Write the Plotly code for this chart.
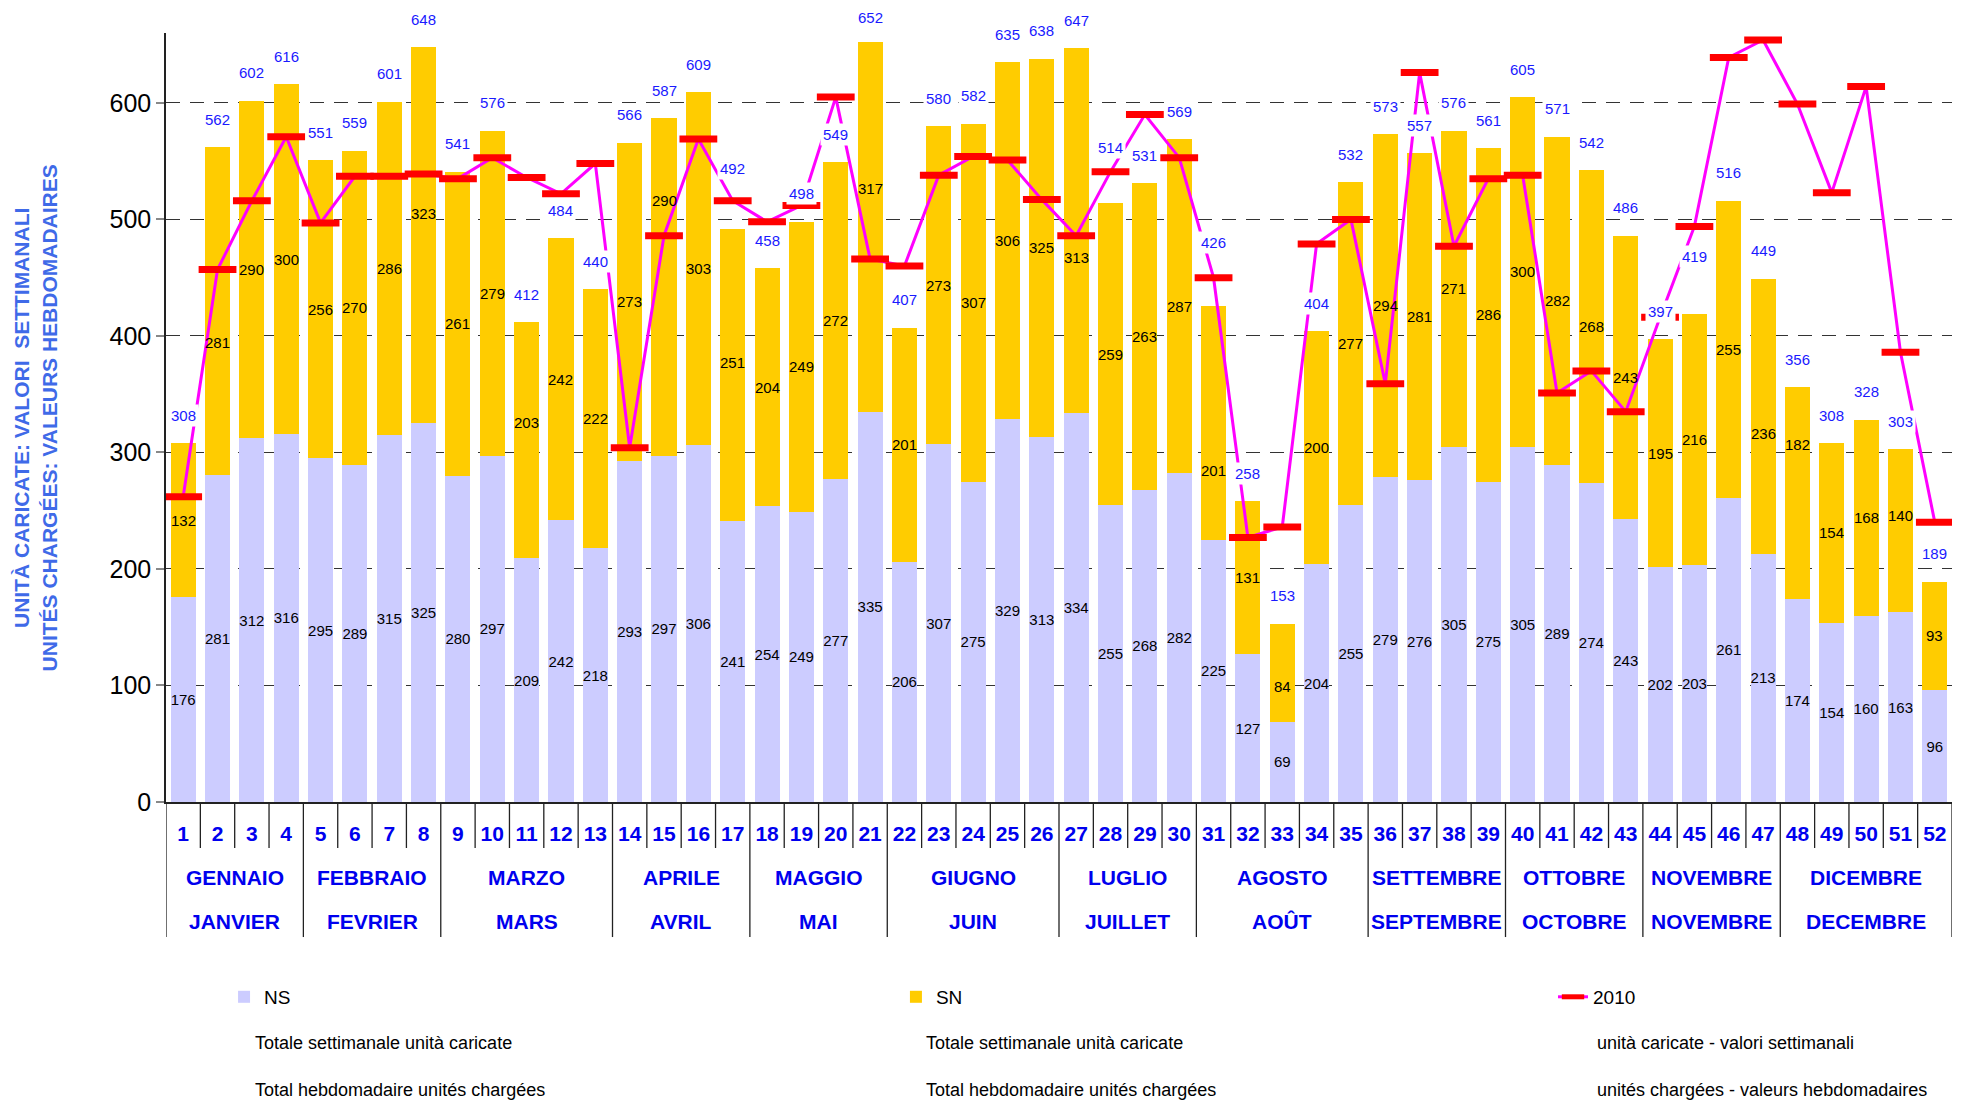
import plotly.graph_objects as go

weeks = list(range(1, 53))
ns = [176, 281, 312, 316, 295, 289, 315, 325, 280, 297, 209, 242, 218,
      293, 297, 306, 241, 254, 249, 277, 335, 206, 307, 275, 329, 313,
      334, 255, 268, 282, 225, 127, 69, 204, 255, 279, 276, 305, 275,
      305, 289, 274, 243, 202, 203, 261, 213, 174, 154, 160, 163, 96]
sn = [132, 281, 290, 300, 256, 270, 286, 323, 261, 279, 203, 242, 222,
      273, 290, 303, 251, 204, 249, 272, 317, 201, 273, 307, 306, 325,
      313, 259, 263, 287, 201, 131, 84, 200, 277, 294, 281, 271, 286,
      300, 282, 268, 243, 195, 216, 255, 236, 182, 154, 168, 140, 93]
y2010 = [262, 457, 516, 571, 497, 537, 537, 539, 535, 553, 536, 522, 548,
         304, 486, 569, 516, 498, 512, 605, 466, 460, 538, 554, 551, 517,
         486, 541, 590, 553, 450, 227, 236, 479, 500, 359, 626, 477, 535,
         538, 351, 370, 335, 416, 494, 639, 654, 599, 523, 614, 386, 240]
months_it = ["GENNAIO", "FEBBRAIO", "MARZO", "APRILE", "MAGGIO", "GIUGNO",
             "LUGLIO", "AGOSTO", "SETTEMBRE", "OTTOBRE", "NOVEMBRE", "DICEMBRE"]
months_fr = ["JANVIER", "FEVRIER", "MARS", "AVRIL", "MAI", "JUIN",
             "JUILLET", "AOÛT", "SEPTEMBRE", "OCTOBRE", "NOVEMBRE", "DECEMBRE"]
weeks_per_month = [4, 4, 5, 4, 4, 5, 4, 5, 4, 4, 4, 5]

totals = [a + b for a, b in zip(ns, sn)]

# label placement tweaks (layout only, in axis units) as in the original chart
total_label_gap = 24
total_label_extra = {17: 28, 21: -3, 28: 24, 31: 30, 45: 25}
sn_label_shift = {2: -27, 8: 19, 11: 15, 15: 74, 17: 11, 21: 33, 27: -23,
                  31: -41, 33: -12, 47: -15, 48: 42, 51: 13}

NARROW = "Liberation Sans Narrow, Liberation Sans, Arial, sans-serif"
ARIAL = "Liberation Sans, Arial, sans-serif"
BLUE = "#0000ee"

fig = go.Figure()
fig.add_trace(go.Bar(
    x=weeks, y=ns, name="NS", marker=dict(color="#ccccff", line=dict(width=0)),
    text=[str(v) for v in ns], textposition="inside", insidetextanchor="middle",
    textangle=0, constraintext="none",
    textfont=dict(family=NARROW, size=15, color="black"), legend="legend"))
fig.add_trace(go.Bar(
    x=weeks, y=sn, name="SN", marker=dict(color="#ffcc00", line=dict(width=0)),
    legend="legend2"))
fig.add_trace(go.Scatter(
    x=weeks, y=y2010, name="2010", mode="lines+markers",
    line=dict(color="#ff00ff", width=3),
    marker=dict(symbol="line-ew", size=27, color="red",
                line=dict(color="red", width=7)),
    legend="legend3"))

annotations = []
for w, a, b in zip(weeks, ns, sn):
    annotations.append(dict(x=w, y=a + b / 2 + sn_label_shift.get(w, 0), xref="x", yref="y",
                            text=str(b), showarrow=False, yanchor="middle",
                            font=dict(family=NARROW, size=15, color="black")))
for w, t in zip(weeks, totals):
    lift = (total_label_gap + total_label_extra.get(w, 0)) * 1.165
    annotations.append(dict(x=w, y=t, yshift=lift, xref="x", yref="y", text=str(t),
                            showarrow=False, bgcolor="white", borderpad=2,
                            yanchor="middle",
                            font=dict(family=NARROW, size=15, color="#1a1aff")))

shapes = []
month_bounds = [0]
for n in weeks_per_month:
    month_bounds.append(month_bounds[-1] + n)
start = 1
for i, n in enumerate(weeks_per_month):
    end = start + n - 1
    xc = (start + end) / 2
    annotations.append(dict(x=xc, y=-0.0988, xref="x", yref="paper", text=months_it[i],
                            showarrow=False, yanchor="middle",
                            font=dict(family=ARIAL, size=21, color=BLUE, weight="bold")))
    annotations.append(dict(x=xc, y=-0.1557, xref="x", yref="paper", text=months_fr[i],
                            showarrow=False, yanchor="middle",
                            font=dict(family=ARIAL, size=21, color=BLUE, weight="bold")))
    start = end + 1

for k in range(0, 53):
    bottom = -0.1756 if k in month_bounds else -0.0598
    shapes.append(dict(type="line", xref="x", yref="paper", x0=k + 0.5, x1=k + 0.5,
                       y0=0, y1=bottom, line=dict(color="#222222", width=1.3)))

annotations.append(dict(
    x=-0.0734, y=0.5, xref="paper", yref="paper", textangle=-90, showarrow=False,
    xanchor="center", yanchor="middle",
    text="UNITÀ CARICATE: VALORI  SETTIMANALI<br>UNITÉS CHARGÉES: VALEURS HEBDOMADAIRES",
    font=dict(family=ARIAL, size=21, color="#3f6ae8", weight="bold")))

subtexts = [
    (0.0487, "Totale settimanale unità caricate", "Total hebdomadaire unités chargées"),
    (0.4243, "Totale settimanale unità caricate", "Total hebdomadaire unités chargées"),
    (0.8000, "unità caricate - valori settimanali", "unités chargées - valeurs hebdomadaires"),
]
for xp, l1, l2 in subtexts:
    annotations.append(dict(x=xp, y=-0.3134, xref="paper", yref="paper", text=l1,
                            showarrow=False, xanchor="left", yanchor="middle",
                            font=dict(family=ARIAL, size=18, color="black")))
    annotations.append(dict(x=xp, y=-0.3739, xref="paper", yref="paper", text=l2,
                            showarrow=False, xanchor="left", yanchor="middle",
                            font=dict(family=ARIAL, size=18, color="black")))

legend_common = dict(y=-0.2535, yanchor="middle", xanchor="left", orientation="h",
                     font=dict(family=ARIAL, size=19, color="black"),
                     bgcolor="rgba(0,0,0,0)", borderwidth=0)

fig.update_layout(
    width=1970, height=1102,
    margin=dict(l=158, r=26, t=25, b=308, autoexpand=False),
    paper_bgcolor="white", plot_bgcolor="white",
    barmode="stack", bargap=0.27,
    showlegend=True,
    legend=dict(x=0.0325, **legend_common),
    legend2=dict(x=0.4087, **legend_common),
    legend3=dict(x=0.7766, **legend_common),
    xaxis=dict(range=[0.5, 52.5], tickvals=weeks, ticktext=[str(w) for w in weeks],
               tickfont=dict(family=ARIAL, size=21, color=BLUE, weight="bold"),
               ticks="", showline=True, linecolor="#222222", linewidth=1.5,
               showgrid=False, zeroline=False, ticklabelstandoff=12, automargin=False),
    yaxis=dict(range=[0, 660], tickvals=[0, 100, 200, 300, 400, 500, 600],
               tickfont=dict(family=NARROW, size=25, color="black"),
               ticks="outside", ticklen=8, tickwidth=2, tickcolor="#888888",
               showline=True, linecolor="#222222", linewidth=1.5,
               showgrid=True, gridcolor="#333333", gridwidth=1, griddash="14px,10px",
               zeroline=False, automargin=False),
    annotations=annotations, shapes=shapes,
)

fig.write_html("out.html")
